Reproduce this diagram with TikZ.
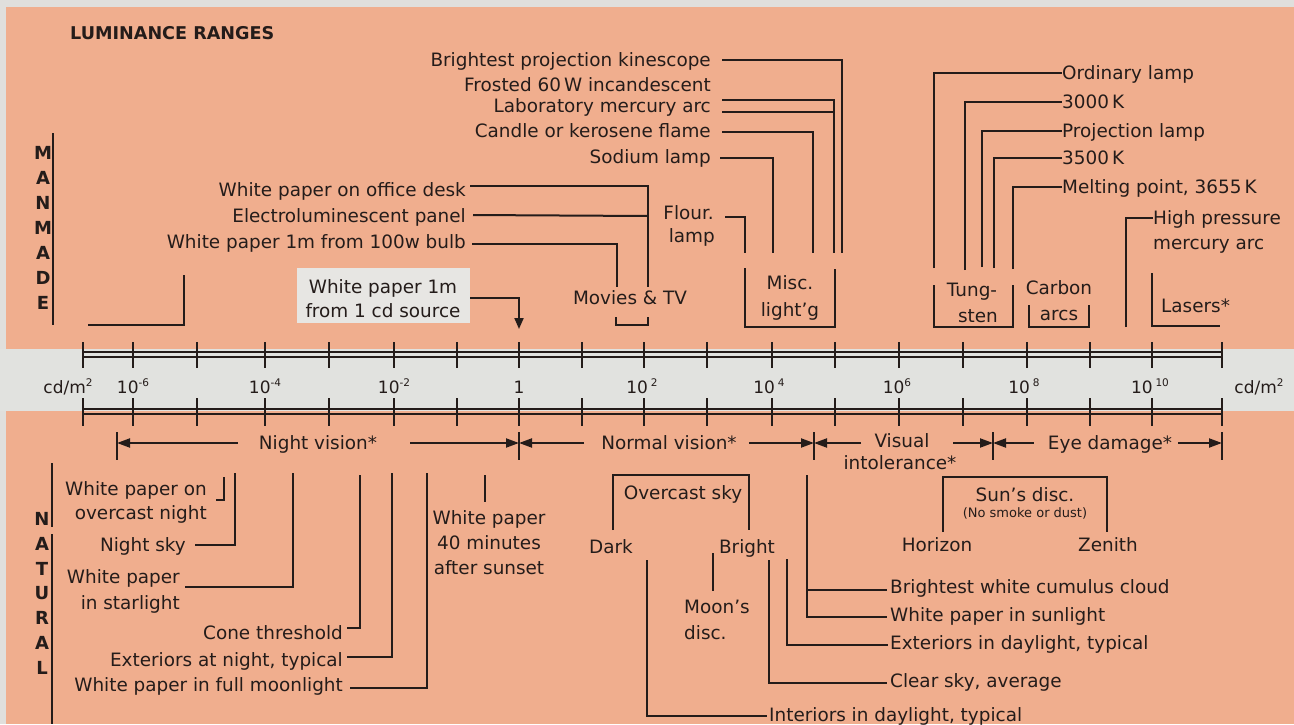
\documentclass[tikz,border=0pt]{standalone}
\usepackage{fontspec}
\setmainfont{DejaVu Sans}
\usetikzlibrary{arrows.meta}
\definecolor{salmon}{RGB}{240,174,142}
\definecolor{bandc}{RGB}{225,226,223}
\definecolor{boxc}{RGB}{231,230,227}
\definecolor{edgec}{RGB}{224,223,220}
\definecolor{inkc}{RGB}{36,28,26}
\newcommand\lblsize{\fontsize{18.4}{22}\selectfont}
\newcommand\smallsize{\fontsize{13}{15}\selectfont}
\newcommand\axsize{\fontsize{17}{20}\selectfont}
\newcommand\supx[1]{\raisebox{0.42em}{\fontsize{10.5}{11}\selectfont #1}}
\tikzset{
  lbl/.style={font=\lblsize, text=inkc, inner sep=0pt, text height=13.4pt, text depth=0pt},
  sml/.style={font=\smallsize, text=inkc, inner sep=0pt, text height=9.5pt, text depth=0pt},
  axl/.style={font=\axsize, text=inkc, inner sep=0pt, text height=12.4pt, text depth=0pt},
  side/.style={font=\bfseries\fontsize{18}{20}\selectfont, text=inkc, inner sep=0pt, text height=13pt, text depth=0pt},
  ink/.style={draw=inkc, line width=2pt},
  axisline/.style={draw=inkc, line width=1.6pt},
  arr/.style={ink, -{Triangle[length=13pt,width=9pt]}},
  arrs/.style={ink, -{Triangle[length=11pt,width=9pt]}},
}
\begin{document}
\begin{tikzpicture}[x=1pt,y=-1pt]
\useasboundingbox (0,0) rectangle (1294,724);
\fill[edgec] (0,0) rectangle (1294,724);
\fill[salmon] (6,7) rectangle (1294,724);
\fill[bandc] (0,349) rectangle (1294,411);

% title
\node[font=\bfseries\fontsize{17.6}{20}\selectfont, text=inkc, inner sep=0pt, text height=13pt, text depth=0pt, anchor=west] (title) at (70,33) {LUMINANCE RANGES};

% side labels
\foreach \l [count=\i from 0] in {M,A,N,M,A,D,E} \node[side] (mm\i) at (43,153+25*\i) {\l};
\foreach \l [count=\i from 0] in {N,A,T,U,R,A,L} \node[side] (nt\i) at (42,519+24.8*\i) {\l};
\coordinate (mmT) at (53,133); \coordinate (mmB) at (53,325);
\draw[ink] (mmT) -- (mmB);
\coordinate (ntT) at (52,463); \coordinate (ntM) at (52,527);
\coordinate (ntN) at (52,534); \coordinate (ntB) at (52,724);
\draw[ink] (ntT) -- (ntM); \draw[ink] (ntN) -- (ntB);

% axis
\draw[axisline] (83,352) -- (1222,352);
\draw[axisline] (83,357) -- (1222,357);
\draw[axisline] (83,409) -- (1222,409);
\draw[axisline] (83,414) -- (1222,414);
\foreach \t in {83,133,197,265,329,394,457,519,582,644,707,772,835,899,963,1027,1090,1152,1222}
  {\draw[ink] (\t,342) -- (\t,368); \draw[ink] (\t,398) -- (\t,426);}
\node[axl] (uL) at (68,387) {cd/m\supx{2}};
\node[axl] (e6) at (133,387) {10\supx{-6}};
\node[axl] (e4) at (265,387) {10\supx{-4}};
\node[axl] (e2) at (394,387) {10\supx{-2}};
\node[axl] (e0) at (519,387) {1};
\node[axl] (p2) at (642,387) {10\,\supx{2}};
\node[axl] (p4) at (769,387) {10\,\supx{4}};
\node[axl] (p6) at (897,387) {10\supx{6}};
\node[axl] (p8) at (1024,387) {10\,\supx{8}};
\node[axl] (p10) at (1150,387) {10\,\supx{10}};
\node[axl] (uR) at (1259,387) {cd/m\supx{2}};

% vision row
\coordinate (b1) at (117,443); \coordinate (b2) at (519,443); \coordinate (b3) at (814,443);
\coordinate (b4) at (993,443); \coordinate (b5) at (1222,443);
\foreach \b in {b1,b2,b3,b4,b5} \draw[ink] ([yshift=11pt]\b) -- ([yshift=-17pt]\b);
\node[lbl] (nv) at (318,443) {Night vision*};
\node[lbl] (nov) at (669,443) {Normal vision*};
\node[lbl] (vi1) at (902,441) {Visual};
\node[lbl] (vi2) at (900,463) {intolerance*};
\node[lbl] (ed) at (1110,443) {Eye damage*};
\draw[arr] ([xshift=-21pt]nv.west) -- (b1);
\draw[arr] ([xshift=33pt]nv.east) -- (b2);
\draw[arr] ([xshift=-17pt]nov.west) -- (b2);
\draw[arr] ([xshift=12pt]nov.east) -- (b3);
\draw[arr] (861,443) -- (b3);
\draw[arr] (953,443) -- (b4);
\draw[arr] ([xshift=-14pt]ed.west) -- (b4);
\draw[arr] ([xshift=6pt]ed.east) -- (b5);

% ---------- manmade, upper middle ----------
\node[lbl,anchor=east] (kin) at (711,60) {Brightest projection kinescope};
\node[lbl,anchor=east] (fro) at (711,85) {Frosted 60\,W incandescent};
\node[lbl,anchor=east] (lab) at (711,106) {Laboratory mercury arc};
\node[lbl,anchor=east] (can) at (711,131) {Candle or kerosene flame};
\node[lbl,anchor=east] (sod) at (711,157) {Sodium lamp};
\node[lbl,anchor=east] (fl1) at (714,213) {Flour.};
\node[lbl,anchor=east] (fl2) at (715,236) {lamp};
\coordinate (kinB) at (842,253); \coordinate (labB) at (834,253);
\coordinate (canB) at (813,253); \coordinate (sodB) at (773,253);
\coordinate (flB) at (745,253);
\draw[ink] ([xshift=11pt]kin.east) -| (kinB);
\draw[ink] ([xshift=11pt,yshift=6pt]lab.east) -| (labB);
\draw[ink] ([xshift=11pt,yshift=-6pt]lab.east) -| (labB);
\draw[ink] ([xshift=11pt,yshift=-1pt]can.east) -| (canB);
\draw[ink] ([xshift=9pt,yshift=-1pt]sod.east) -| (sodB);
\draw[ink] ([xshift=11pt,yshift=-4pt]fl1.east) -| (flB);
\node[lbl] (mi1) at (790,283) {Misc.};
\node[lbl] (mi2) at (790,310) {light'g};
\coordinate (miL) at (745,268); \coordinate (miB) at (835,327); \coordinate (miR) at (835,269);
\draw[ink] (miL) |- (miB) -- (miR);

\node[lbl,anchor=east] (desk) at (466,190) {White paper on office desk};
\node[lbl,anchor=east] (pan) at (466,216) {Electroluminescent panel};
\node[lbl,anchor=east] (bulb) at (466,242) {White paper 1m from 100w bulb};
\coordinate (mtA) at (648,287); \coordinate (mtB) at (617,287);
\draw[ink] ([xshift=4pt,yshift=4pt]desk.east) -| (mtA);
\draw[ink] ([xshift=7pt,yshift=1pt]pan.east) -- (pan.east -| mtA);
\draw[ink] ([xshift=6pt,yshift=-2pt]bulb.east) -| (mtB);
\node[lbl] (mtv) at (630,298) {Movies \& TV};
\coordinate (mvL) at (616,317); \coordinate (mvB) at (648,325); \coordinate (mvR) at (648,317);
\draw[ink] (mvL) |- (mvB) -- (mvR);

\node[fill=boxc, minimum width=173pt, minimum height=55pt, inner sep=0pt] (box) at (383.5,295.5) {};
\node[lbl] (bx1) at (383,287) {White paper 1m};
\node[lbl] (bx2) at (383,311) {from 1 cd source};
\coordinate (oneA) at (519,329);
\draw[arrs] ([yshift=-2.5pt]box.east) -| (oneA);

\coordinate (lbA) at (88,325); \coordinate (lbB) at (184,275);
\draw[ink] (lbA) -| (lbB);

% ---------- manmade, upper right ----------
\node[lbl,anchor=west] (ord) at (1062,73) {Ordinary lamp};
\node[lbl,anchor=west] (k3) at (1062,102) {3000\,K};
\node[lbl,anchor=west] (proj) at (1062,131) {Projection lamp};
\node[lbl,anchor=west] (k35) at (1062,158) {3500\,K};
\node[lbl,anchor=west] (melt) at (1062,187) {Melting point, 3655\,K};
\coordinate (ordB) at (934,268); \coordinate (k3B) at (965,270);
\coordinate (projB) at (982,267); \coordinate (k35B) at (994,268);
\coordinate (meltB) at (1013,269);
\draw[ink] (ordB) |- (ord.west);
\draw[ink] (k3B) |- (k3.west);
\draw[ink] (projB) |- (proj.west);
\draw[ink] (k35B) |- (k35.west);
\draw[ink] (meltB) |- (melt.west);
\node[lbl] (tu1) at (972,290) {Tung-};
\node[lbl] (tu2) at (978,316) {sten};
\coordinate (tuL) at (934,285); \coordinate (tuB) at (1013,327); \coordinate (tuR) at (1013,285);
\draw[ink] (tuL) |- (tuB) -- (tuR);
\node[lbl] (ca1) at (1059,288) {Carbon};
\node[lbl] (ca2) at (1059,314) {arcs};
\coordinate (caL) at (1029,305); \coordinate (caB) at (1089,327); \coordinate (caR) at (1089,305);
\draw[ink] (caL) |- (caB) -- (caR);
\node[lbl,anchor=west] (hp1) at (1153,218) {High pressure};
\node[lbl,anchor=west] (hp2) at (1153,243) {mercury arc};
\coordinate (hpB) at (1126,327);
\draw[ink] (hpB) |- (hp1.west);
\node[lbl,anchor=west] (las) at (1161,306) {Lasers*};
\coordinate (laT) at (1152,273); \coordinate (laE) at (1220,326);
\draw[ink] (laT) |- (laE);

% ---------- natural, lower left ----------
\node[lbl,anchor=east] (ov1) at (207,489) {White paper on};
\node[lbl,anchor=east] (ov2) at (207,513) {overcast night};
\coordinate (ovA) at (216,500); \coordinate (ovB) at (224,477);
\draw[ink] (ovA) -| (ovB);
\node[lbl,anchor=east] (nsk) at (186,545) {Night sky};
\coordinate (nskB) at (235,473);
\draw[ink] ([xshift=9pt]nsk.east) -| (nskB);
\node[lbl,anchor=east] (st1) at (180,577) {White paper};
\node[lbl,anchor=east] (st2) at (180,603) {in starlight};
\coordinate (stA) at (185,587); \coordinate (stB) at (293,473);
\draw[ink] (stA) -| (stB);
\node[lbl,anchor=east] (cone) at (343,633) {Cone threshold};
\coordinate (coneB) at (360,475);
\draw[ink] ([xshift=4pt,yshift=5pt]cone.east) -| (coneB);
\node[lbl,anchor=east] (exn) at (343,660) {Exteriors at night, typical};
\coordinate (exnB) at (392,473);
\draw[ink] ([xshift=4pt,yshift=3pt]exn.east) -| (exnB);
\node[lbl,anchor=east] (fm) at (343,685) {White paper in full moonlight};
\coordinate (fmB) at (427,473);
\draw[ink] ([xshift=7pt,yshift=-3pt]fm.east) -| (fmB);
\coordinate (ssT) at (485,475); \coordinate (ssB) at (485,502);
\draw[ink] (ssT) -- (ssB);
\node[lbl] (ss1) at (489,518) {White paper};
\node[lbl] (ss2) at (489,543) {40 minutes};
\node[lbl] (ss3) at (489,568) {after sunset};

% ---------- natural, lower middle ----------
\node[lbl] (ovs) at (683,493) {Overcast sky};
\node[lbl] (dark) at (611,547) {Dark};
\node[lbl] (brt) at (747,547) {Bright};
\coordinate (osL) at (613,530); \coordinate (osR) at (749,530);
\draw[ink] (osL) -- (613,475) -- (749,475) -- (osR);
\coordinate (moT) at (713,553); \coordinate (moB) at (713,591);
\draw[ink] (moT) -- (moB);
\node[lbl,anchor=west] (mo1) at (684,607) {Moon's};
\node[lbl,anchor=west] (mo2) at (684,633) {disc.};

\node[lbl,anchor=west] (cum) at (890,587) {Brightest white cumulus cloud};
\node[lbl,anchor=west] (wsun) at (890,615) {White paper in sunlight};
\node[lbl,anchor=west] (exd) at (890,643) {Exteriors in daylight, typical};
\node[lbl,anchor=west] (clr) at (890,681) {Clear sky, average};
\node[lbl,anchor=west] (intd) at (769,715) {Interiors in daylight, typical};
\coordinate (wsT) at (807,475); \coordinate (exT) at (787,559);
\coordinate (clT) at (769,560); \coordinate (inT) at (647,560);
\draw[ink] (wsT) |- ([xshift=-3pt,yshift=-2pt]wsun.west);
\draw[ink] (wsT |- cum.west) ++(0,3) -- ([xshift=-3pt,yshift=-3pt]cum.west);
\draw[ink] (exT) |- ([xshift=-2pt,yshift=-2pt]exd.west);
\draw[ink] (clT) |- ([xshift=-3pt,yshift=-2pt]clr.west);
\draw[ink] (inT) |- ([xshift=-2pt,yshift=-1pt]intd.west);

% ---------- sun's disc ----------
\node[lbl] (sun1) at (1025,495) {Sun's disc.};
\node[sml] (sun2) at (1025,513) {(No smoke or dust)};
\node[lbl] (hor) at (937,545) {Horizon};
\node[lbl] (zen) at (1108,545) {Zenith};
\coordinate (sdL) at (943,532); \coordinate (sdR) at (1107,532);
\draw[ink] (sdL) -- (943,477) -- (1107,477) -- (sdR);
\end{tikzpicture}
\end{document}
